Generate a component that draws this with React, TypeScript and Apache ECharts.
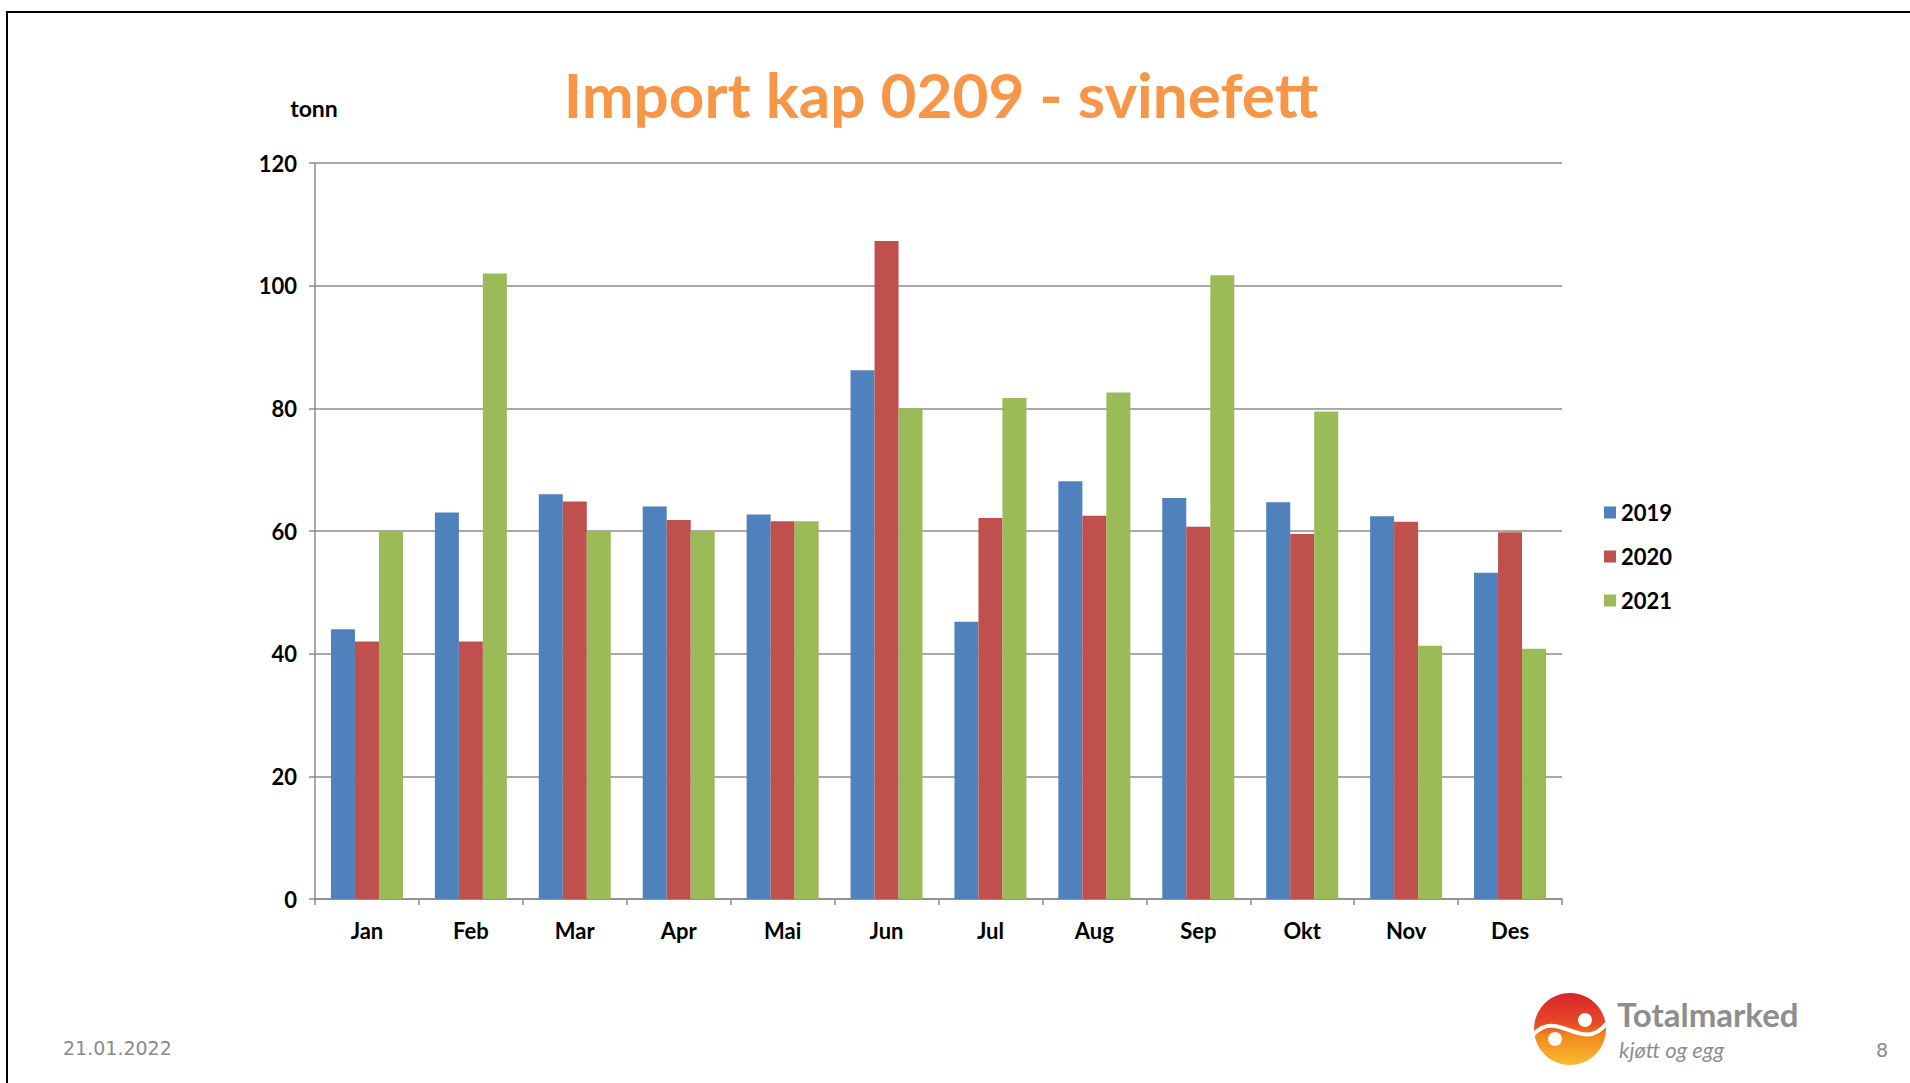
import React, { useEffect, useRef } from "react";
import * as echarts from "echarts";

const months = ["Jan", "Feb", "Mar", "Apr", "Mai", "Jun", "Jul", "Aug", "Sep", "Okt", "Nov", "Des"];
const s2019 = [44, 63, 66, 64, 62.7, 86.2, 45.2, 68.1, 65.4, 64.7, 62.4, 53.2];
const s2020 = [42, 42, 64.8, 61.8, 61.6, 107.3, 62.1, 62.5, 60.7, 59.5, 61.5, 59.8];
const s2021 = [60, 102, 60, 60, 61.6, 80, 81.7, 82.6, 101.7, 79.5, 41.3, 40.8];
const seriesNames = ["2019", "2020", "2021"];
const colors = ["#4F81BD", "#C0504D", "#9BBB59"];

const FONT = "Lato, 'Noto Sans', sans-serif";

export default function App() {
  const ref = useRef<HTMLDivElement>(null);
  useEffect(() => {
    if (!ref.current) return;
    const chart = echarts.init(ref.current, null, { renderer: "svg" });
    const data = [s2019, s2020, s2021];
    chart.setOption({
      animation: false,
      backgroundColor: "#ffffff",
      color: colors,
      grid: { left: 315, right: 348, top: 163, bottom: 184, containLabel: false },
      legend: {
        orient: "vertical",
        left: 1599,
        top: 496,
        icon: "rect",
        itemWidth: 12,
        itemHeight: 12,
        itemGap: 21,
        data: seriesNames,
        textStyle: { fontFamily: FONT, fontWeight: "bold", fontSize: 22, color: "#000", lineHeight: 23 },
      },
      xAxis: {
        type: "category",
        data: months,
        axisLine: { lineStyle: { color: "#8c8c8c", width: 1.5 } },
        axisTick: { show: true, length: 6, lineStyle: { color: "#8c8c8c", width: 1.5 } },
        axisLabel: { fontFamily: FONT, fontWeight: "bold", fontSize: 22, color: "#000", margin: 20 },
      },
      yAxis: {
        type: "value",
        min: 0,
        max: 120,
        interval: 20,
        axisLine: { show: true, lineStyle: { color: "#8c8c8c", width: 1.5 } },
        axisTick: { show: true, length: 6, lineStyle: { color: "#8c8c8c", width: 1.5 } },
        splitLine: { lineStyle: { color: "#8c8c8c", width: 1.5 } },
        axisLabel: { fontFamily: FONT, fontWeight: "bold", fontSize: 22, color: "#000", margin: 18 },
      },
      series: data.map((d, i) => ({
        type: "bar",
        name: seriesNames[i],
        data: d,
        barWidth: 24,
        barGap: "0%",
        itemStyle: { color: colors[i] },
      })),
      graphic: [
        {
          type: "rect",
          shape: { x: 7, y: 12, width: 2100, height: 1200 },
          style: { fill: "none", stroke: "#000", lineWidth: 2 },
          silent: true,
        },
        {
          type: "text",
          x: 941,
          y: 94,
          style: {
            text: "Import kap 0209 - svinefett",
            fontFamily: FONT,
            fontWeight: "bold",
            fontSize: 62,
            fill: "#F79646",
            align: "center",
            verticalAlign: "middle",
          },
        },
        {
          type: "text",
          x: 314,
          y: 108,
          style: {
            text: "tonn",
            fontFamily: FONT,
            fontWeight: "bold",
            fontSize: 23,
            fill: "#000",
            align: "center",
            verticalAlign: "middle",
          },
        },
        {
          type: "text",
          x: 63,
          y: 1048,
          style: {
            text: "21.01.2022",
            fontFamily: "'DejaVu Sans', sans-serif",
            fontSize: 19,
            fill: "#8a8a8a",
            align: "left",
            verticalAlign: "middle",
          },
        },
        {
          type: "text",
          x: 1882,
          y: 1050,
          style: {
            text: "8",
            fontFamily: "'DejaVu Sans', sans-serif",
            fontSize: 19,
            fill: "#8a8a8a",
            align: "center",
            verticalAlign: "middle",
          },
        },
        {
          type: "group",
          x: 1570,
          y: 1029,
          children: [
            {
              type: "circle",
              shape: { cx: 0, cy: 0, r: 36 },
              style: {
                fill: new echarts.graphic.LinearGradient(0, 0, 0, 1, [
                  { offset: 0, color: "#D9232B" },
                  { offset: 0.45, color: "#E94E25" },
                  { offset: 0.6, color: "#F28A1F" },
                  { offset: 1, color: "#F9BC2E" },
                ]),
              },
            },
            {
              type: "bezierCurve",
              shape: { x1: -37, y1: 6, cpx1: -12, cpy1: -22, cpx2: 12, cpy2: 26, x2: 37, y2: -6 },
              style: { stroke: "#fff", lineWidth: 4, fill: "none" },
            },
            { type: "circle", shape: { cx: 15, cy: -9, r: 7 }, style: { fill: "#fff" } },
            { type: "circle", shape: { cx: -15, cy: 10, r: 7 }, style: { fill: "#fff" } },
          ],
        },
        {
          type: "text",
          x: 1617,
          y: 1014,
          style: {
            text: "Totalmarked",
            fontFamily: FONT,
            fontWeight: "bold",
            fontSize: 33,
            lineHeight: 33,
            fill: "#8e8e8e",
            align: "left",
            verticalAlign: "middle",
          },
        },
        {
          type: "text",
          x: 1619,
          y: 1049,
          style: {
            text: "kjøtt og egg",
            fontFamily: FONT,
            fontStyle: "italic",
            fontSize: 22,
            lineHeight: 22,
            fill: "#8e8e8e",
            align: "left",
            verticalAlign: "middle",
          },
        },
      ],
    });
    return () => chart.dispose();
  }, []);
  return (
    <div
      ref={ref}
      style={{ position: "fixed", left: 0, top: 0, width: 1910, height: 1083, background: "#fff" }}
    />
  );
}
